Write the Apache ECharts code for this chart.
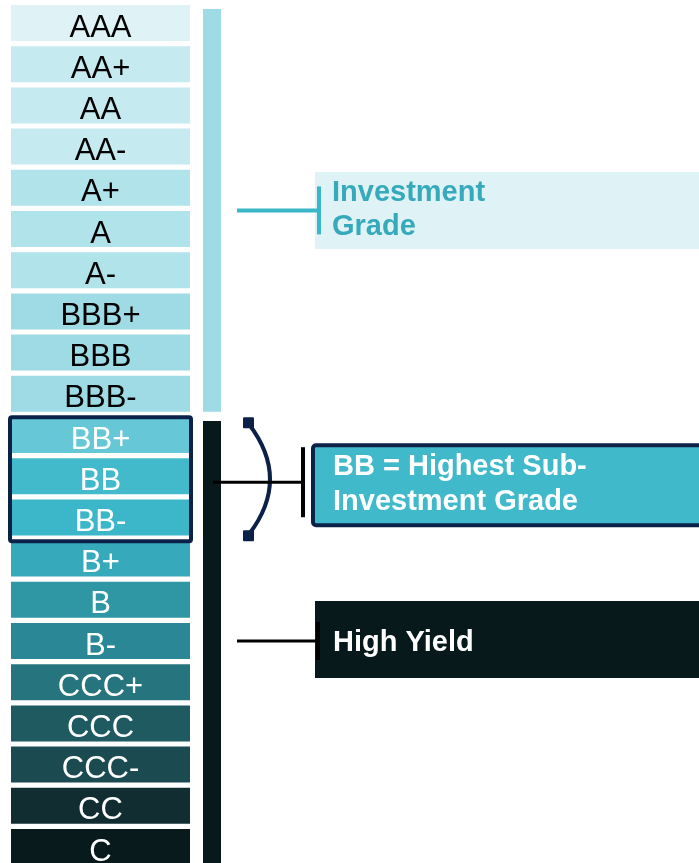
<!DOCTYPE html>
<html>
<head>
<meta charset="utf-8">
<style>
    html, body {margin: 0; padding: 0; background: #fff;}
    #echart {width: 699px; height: 863px;}
</style>
<script src="https://cdn.jsdelivr.net/npm/echarts@6/dist/echarts.min.js"></script>
</head>
<body>
<div id="echart"></div>
<script>
// rating scale, top to bottom
const ratings = ['AAA', 'AA+', 'AA', 'AA-', 'A+', 'A', 'A-', 'BBB+', 'BBB', 'BBB-',
    'BB+', 'BB', 'BB-', 'B+', 'B', 'B-', 'CCC+', 'CCC', 'CCC-', 'CC', 'C'];
const ratingColors = ['#dff2f5', '#c5eaef', '#c5eaef', '#c5eaef', '#b0e3ea', '#b0e3ea', '#b0e3ea',
    '#9fdbe4', '#9fdbe4', '#9fdbe4', '#66c8d6', '#42bacc', '#3bb7c9', '#36a9ba', '#2f96a4',
    '#2a8896', '#26747d', '#1f5a61', '#1b4a51', '#112d32', '#081a1c'];
const labelColors = ['#000', '#000', '#000', '#000', '#000', '#000', '#000', '#000', '#000', '#000',
    '#fff', '#fff', '#fff', '#fff', '#fff', '#fff', '#fff', '#fff', '#fff', '#fff', '#fff'];

// the two big groups (vertical bars)
const groupNames = ['Investment Grade', 'High Yield'];
const groupFirst = ['AAA', 'BB+'];
const groupLast = ['BBB-', 'C'];
const groupColors = ['#9edbe4', '#08191b'];

// highlighted block
const focusFirst = 'BB+';
const focusLast = 'BB-';

// callouts on the right
const calloutTexts = ['Investment\nGrade', 'BB = Highest Sub-\nInvestment Grade', 'High Yield'];
const calloutFrom = ['A+', 'BB', 'B-'];
const calloutTo = ['A', 'BB', 'B-'];

const NAVY = '#0b2148';
const BOX_LEFT = 11;
const BOX_RIGHT = 190;
const BOX_H = 36;
const BAR_LEFT = 203;
const BAR_RIGHT = 221;

const calloutStyle = [
    {dy: 2, top: -38.5, bottom: 38.5, left: 315, fill: '#dff2f5', stroke: null, lineFrom: 237,
        tickX: 319, tick: 24, lineColor: '#3ab6c9', lineWidth: 4, textColor: '#36aabb', textX: 332, textDy: 0, lineHeight: 34},
    {dy: 6, top: -39, bottom: 45, left: 311, fill: '#40b9cb', stroke: NAVY, lineFrom: 213,
        tickX: 303, tick: 35, lineColor: '#000', lineWidth: 3, textColor: '#fff', textX: 333, textDy: 2, lineHeight: 35},
    {dy: 0, top: -40, bottom: 37, left: 315, fill: '#08191b', stroke: null, lineFrom: 237,
        tickX: 318, tick: 19, lineColor: '#000', lineWidth: 3, textColor: '#fff', textX: 333, textDy: 1.5, lineHeight: 34}
];

const FONT = '"Liberation Sans", Arial, sans-serif';

function renderRating(params, api) {
    let i = params.dataIndex;
    let p0 = api.coord([BOX_LEFT, api.value(1)]);
    let p1 = api.coord([BOX_RIGHT, api.value(1)]);
    return {
        type: 'group',
        children: [{
            type: 'rect',
            shape: {x: p0[0], y: p0[1] - BOX_H / 2, width: p1[0] - p0[0], height: BOX_H},
            style: {fill: ratingColors[i]}
        }, {
            type: 'text',
            style: {
                text: ratings[i],
                x: (p0[0] + p1[0]) / 2,
                y: p0[1] + 5,
                align: 'center',
                verticalAlign: 'middle',
                font: '31px ' + FONT,
                fill: labelColors[i]
            }
        }]
    };
}

function renderGroup(params, api) {
    let a = api.coord([BAR_LEFT, api.value(1)]);
    let b = api.coord([BAR_RIGHT, api.value(2)]);
    let top = a[1] - 14;
    return {
        type: 'rect',
        shape: {x: a[0], y: top, width: b[0] - a[0], height: b[1] + BOX_H / 2 - top},
        style: {fill: groupColors[params.dataIndex]}
    };
}

function renderFocus(params, api) {
    let a = api.coord([0, api.value(1)]);
    let b = api.coord([0, api.value(2)]);
    let cy = (a[1] + b[1]) / 2 + 3;
    return {
        type: 'group',
        children: [{
            // outline around the BB block
            type: 'rect',
            shape: {x: 10, y: cy - 62, width: 181, height: 124, r: 2},
            style: {fill: 'none', stroke: NAVY, lineWidth: 4}
        }, {
            // bracket
            type: 'path',
            shape: {pathData: 'M249,' + (cy - 55) + ' Q291,' + cy + ' 249,' + (cy + 55)},
            style: {fill: 'none', stroke: NAVY, lineWidth: 4}
        }, {
            type: 'rect',
            shape: {x: 243, y: cy - 62, width: 11, height: 11, r: 1},
            style: {fill: NAVY}
        }, {
            type: 'rect',
            shape: {x: 243, y: cy + 51, width: 11, height: 11, r: 1},
            style: {fill: NAVY}
        }]
    };
}

function renderCallout(params, api) {
    let s = calloutStyle[params.dataIndex];
    let a = api.coord([0, api.value(1)]);
    let b = api.coord([0, api.value(2)]);
    let cy = (a[1] + b[1]) / 2 + s.dy;
    let inset = s.stroke ? 2 : 0;
    return {
        type: 'group',
        children: [{
            type: 'rect',
            shape: {
                x: s.left + inset,
                y: cy + s.top + inset,
                width: 720 - s.left,
                height: s.bottom - s.top - inset * 2,
                r: s.stroke ? 3 : 0
            },
            style: {fill: s.fill, stroke: s.stroke || 'none', lineWidth: 4}
        }, {
            type: 'line',
            shape: {x1: s.lineFrom, y1: cy, x2: s.tickX, y2: cy},
            style: {stroke: s.lineColor, lineWidth: s.lineWidth}
        }, {
            type: 'line',
            shape: {x1: s.tickX, y1: cy - s.tick, x2: s.tickX, y2: cy + s.tick},
            style: {stroke: s.lineColor, lineWidth: 4}
        }, {
            type: 'text',
            style: {
                text: calloutTexts[params.dataIndex],
                x: s.textX,
                y: cy + s.textDy,
                align: 'left',
                verticalAlign: 'middle',
                font: 'bold 29px ' + FONT,
                lineHeight: s.lineHeight,
                fill: s.textColor
            }
        }]
    };
}

let Echart = echarts.init(document.getElementById('echart'));
let option = {
    backgroundColor: '#fff',
    animation: false,
    grid: {left: 0, right: 0, top: 2.4, height: 865.2, outerBoundsMode: 'none'},
    xAxis: {type: 'value', min: 0, max: 699, show: false},
    yAxis: {type: 'category', data: ratings, inverse: true, show: false},
    series: [{
        type: 'custom',
        name: 'groups',
        renderItem: renderGroup,
        encode: {x: 0, y: [1, 2]},
        data: groupNames.map((n, i) => [0, ratings.indexOf(groupFirst[i]), ratings.indexOf(groupLast[i])]),
        z: 1
    }, {
        type: 'custom',
        name: 'ratings',
        renderItem: renderRating,
        encode: {x: 0, y: 1},
        data: ratings.map((r, i) => [0, i]),
        z: 2
    }, {
        type: 'custom',
        name: 'focus',
        renderItem: renderFocus,
        encode: {x: 0, y: [1, 2]},
        data: [[0, ratings.indexOf(focusFirst), ratings.indexOf(focusLast)]],
        z: 3
    }, {
        type: 'custom',
        name: 'callouts',
        renderItem: renderCallout,
        encode: {x: 0, y: [1, 2]},
        data: calloutTexts.map((t, i) => [0, ratings.indexOf(calloutFrom[i]), ratings.indexOf(calloutTo[i])]),
        z: 4
    }]
};
Echart.setOption(option);
</script>
</body>
</html>
